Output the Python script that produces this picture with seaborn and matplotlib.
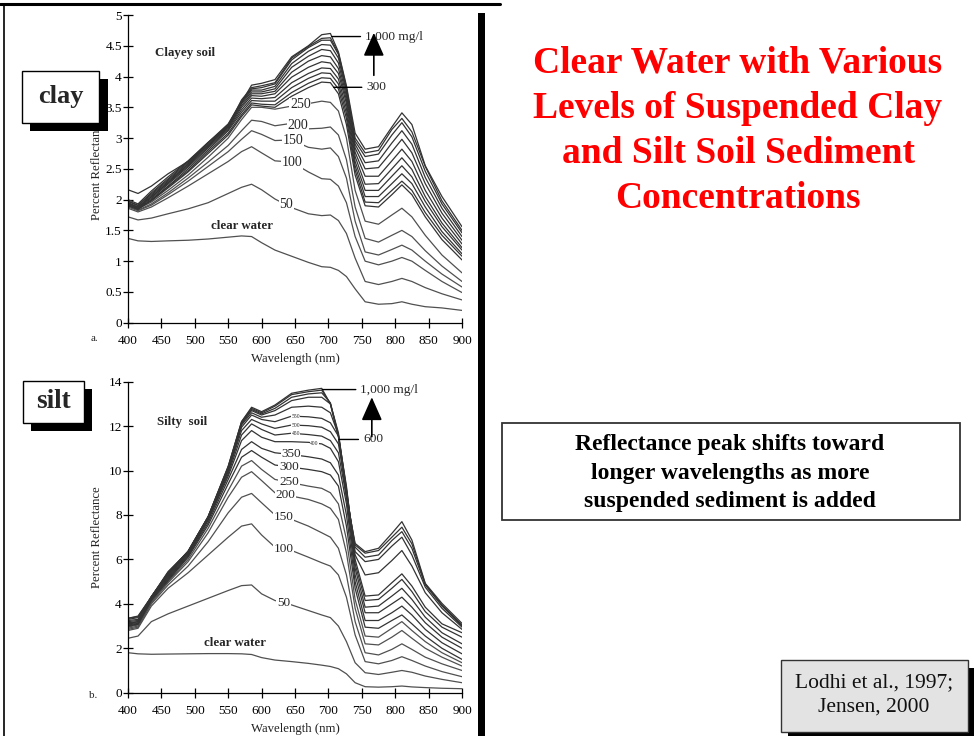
import numpy as np
import pandas as pd
import matplotlib
matplotlib.use("Agg")
import matplotlib.pyplot as plt
from matplotlib.patches import Rectangle
from matplotlib.lines import Line2D
from matplotlib.ticker import FuncFormatter
import seaborn as sns

# ---------------- data ----------------
wavelength = [400, 415, 435, 460, 490, 520, 550, 570, 585, 600, 620, 645, 670,
              690, 703, 715, 727, 740, 755, 775, 795, 810, 825, 845, 870, 900]

# Clayey soil (panel a) - percent reflectance
clay_clear = [1.37, 1.33, 1.32, 1.33, 1.34, 1.36, 1.39, 1.41, 1.40, 1.30, 1.18, 1.08, 0.98, 0.91, 0.90, 0.85, 0.75, 0.55, 0.34, 0.30, 0.31, 0.34, 0.30, 0.26, 0.24, 0.20]
clay_50    = [1.72, 1.67, 1.70, 1.77, 1.85, 1.95, 2.10, 2.20, 2.25, 2.16, 2.01, 1.87, 1.77, 1.74, 1.75, 1.66, 1.45, 1.05, 0.67, 0.62, 0.67, 0.72, 0.67, 0.57, 0.47, 0.37]
clay_100   = [1.86, 1.80, 1.88, 2.03, 2.22, 2.42, 2.62, 2.78, 2.86, 2.76, 2.63, 2.61, 2.45, 2.34, 2.33, 2.22, 1.95, 1.40, 1.00, 0.94, 1.00, 1.06, 1.00, 0.85, 0.67, 0.49]
clay_150   = [1.88, 1.82, 1.91, 2.08, 2.30, 2.54, 2.78, 2.98, 3.12, 3.06, 2.96, 2.97, 2.85, 2.82, 2.84, 2.70, 2.35, 1.65, 1.15, 1.10, 1.19, 1.26, 1.18, 1.00, 0.79, 0.58]
clay_200   = [1.90, 1.83, 1.93, 2.11, 2.35, 2.61, 2.88, 3.12, 3.29, 3.27, 3.20, 3.24, 3.15, 3.16, 3.18, 3.05, 2.65, 1.88, 1.37, 1.31, 1.42, 1.50, 1.40, 1.17, 0.92, 0.67]
clay_250   = [1.92, 1.85, 1.96, 2.15, 2.40, 2.69, 3.00, 3.30, 3.50, 3.50, 3.47, 3.52, 3.56, 3.60, 3.58, 3.44, 3.00, 2.15, 1.65, 1.60, 1.75, 1.86, 1.72, 1.42, 1.10, 0.81]
clay_300   = [1.95, 1.86, 1.98, 2.19, 2.45, 2.75, 3.05, 3.35, 3.54, 3.52, 3.50, 3.68, 3.82, 3.91, 3.90, 3.72, 3.22, 2.40, 1.90, 1.88, 2.08, 2.24, 2.08, 1.72, 1.35, 1.02]
clay_350   = [1.93, 1.85, 1.99, 2.21, 2.47, 2.78, 3.08, 3.38, 3.57, 3.55, 3.54, 3.74, 3.89, 3.98, 3.97, 3.80, 3.32, 2.48, 1.96, 1.95, 2.15, 2.30, 2.15, 1.79, 1.42, 1.08]
clay_400   = [1.90, 1.84, 2.00, 2.22, 2.50, 2.81, 3.12, 3.42, 3.61, 3.60, 3.60, 3.82, 3.97, 4.06, 4.05, 3.88, 3.40, 2.55, 2.05, 2.05, 2.26, 2.42, 2.26, 1.88, 1.48, 1.12]
clay_450   = [1.92, 1.86, 2.02, 2.25, 2.53, 2.84, 3.14, 3.46, 3.65, 3.64, 3.66, 3.90, 4.05, 4.14, 4.13, 3.96, 3.48, 2.62, 2.15, 2.15, 2.38, 2.55, 2.37, 1.97, 1.56, 1.18]
clay_500   = [1.94, 1.88, 2.04, 2.27, 2.55, 2.86, 3.16, 3.50, 3.69, 3.68, 3.72, 3.99, 4.15, 4.24, 4.22, 4.05, 3.56, 2.70, 2.25, 2.26, 2.50, 2.68, 2.49, 2.05, 1.62, 1.22]
clay_550   = [1.92, 1.86, 2.05, 2.28, 2.57, 2.88, 3.18, 3.53, 3.72, 3.72, 3.76, 4.07, 4.25, 4.34, 4.32, 4.13, 3.62, 2.77, 2.38, 2.38, 2.63, 2.82, 2.62, 2.15, 1.70, 1.28]
clay_600   = [1.95, 1.88, 2.07, 2.30, 2.58, 2.90, 3.20, 3.56, 3.75, 3.75, 3.80, 4.15, 4.33, 4.44, 4.42, 4.22, 3.68, 2.84, 2.50, 2.52, 2.78, 2.98, 2.76, 2.26, 1.78, 1.34]
clay_700   = [1.97, 1.90, 2.09, 2.32, 2.60, 2.92, 3.22, 3.58, 3.78, 3.78, 3.84, 4.21, 4.41, 4.52, 4.51, 4.30, 3.74, 2.90, 2.60, 2.63, 2.92, 3.12, 2.90, 2.36, 1.86, 1.40]
clay_800   = [1.98, 1.91, 2.11, 2.34, 2.62, 2.93, 3.23, 3.60, 3.80, 3.82, 3.88, 4.27, 4.47, 4.59, 4.59, 4.36, 3.79, 2.95, 2.70, 2.74, 3.05, 3.25, 3.02, 2.46, 1.93, 1.46]
clay_900   = [2.00, 1.93, 2.14, 2.37, 2.63, 2.93, 3.20, 3.62, 3.82, 3.85, 3.90, 4.30, 4.49, 4.62, 4.63, 4.38, 3.82, 3.00, 2.76, 2.80, 3.14, 3.32, 3.10, 2.54, 1.98, 1.50]
clay_1000  = [2.16, 2.10, 2.22, 2.42, 2.62, 2.88, 3.19, 3.58, 3.86, 3.89, 3.95, 4.32, 4.50, 4.68, 4.70, 4.40, 3.85, 3.08, 2.82, 2.86, 3.18, 3.41, 3.22, 2.55, 2.05, 1.56]

# Silty soil (panel b) - percent reflectance
silt_clear = [1.80, 1.75, 1.73, 1.74, 1.75, 1.76, 1.76, 1.75, 1.72, 1.58, 1.47, 1.40, 1.32, 1.24, 1.18, 1.08, 0.85, 0.45, 0.27, 0.25, 0.27, 0.30, 0.26, 0.23, 0.20, 0.18]
silt_50    = [2.45, 2.55, 3.20, 3.55, 3.90, 4.25, 4.60, 4.82, 4.85, 4.45, 4.15, 3.95, 3.70, 3.50, 3.38, 3.00, 2.30, 1.35, 0.90, 0.82, 0.92, 1.00, 0.92, 0.75, 0.60, 0.45]
silt_100   = [2.80, 2.90, 3.90, 4.70, 5.40, 6.20, 7.00, 7.50, 7.60, 7.10, 6.55, 6.40, 6.10, 5.85, 5.70, 5.30, 4.30, 2.60, 1.40, 1.30, 1.45, 1.62, 1.45, 1.20, 0.95, 0.72]
silt_150   = [2.85, 2.95, 4.00, 4.85, 5.70, 6.80, 8.10, 8.80, 8.97, 8.55, 8.00, 7.80, 7.50, 7.20, 7.00, 6.50, 5.30, 3.20, 1.80, 1.70, 1.95, 2.20, 1.95, 1.60, 1.30, 1.00]
silt_200   = [2.90, 3.00, 4.05, 4.95, 5.90, 7.20, 8.80, 9.70, 9.95, 9.55, 9.00, 8.85, 8.70, 8.50, 8.30, 7.80, 6.30, 3.80, 2.20, 2.15, 2.50, 2.80, 2.45, 2.00, 1.60, 1.20]
silt_250   = [2.95, 3.05, 4.10, 5.00, 6.00, 7.40, 9.10, 10.20, 10.45, 10.05, 9.60, 9.45, 9.30, 9.20, 9.00, 8.50, 6.90, 4.20, 2.55, 2.50, 2.90, 3.20, 2.80, 2.30, 1.80, 1.35]
silt_300   = [3.00, 3.08, 4.15, 5.05, 6.10, 7.55, 9.40, 10.60, 10.90, 10.60, 10.25, 10.15, 10.05, 9.95, 9.80, 9.30, 7.50, 4.70, 2.95, 2.90, 3.25, 3.50, 3.10, 2.55, 2.00, 1.50]
silt_350   = [3.00, 3.10, 4.20, 5.10, 6.15, 7.65, 9.60, 10.95, 11.30, 11.00, 10.80, 10.72, 10.62, 10.52, 10.35, 9.80, 8.00, 5.00, 3.25, 3.25, 3.60, 3.90, 3.50, 2.85, 2.25, 1.75]
silt_400   = [3.05, 3.12, 4.22, 5.15, 6.20, 7.75, 9.75, 11.35, 11.80, 11.50, 11.30, 11.30, 11.27, 11.20, 11.00, 10.40, 8.50, 5.30, 3.60, 3.60, 4.00, 4.30, 3.85, 3.15, 2.50, 2.00]
silt_450   = [3.10, 3.15, 4.25, 5.20, 6.25, 7.80, 9.85, 11.60, 12.10, 11.85, 11.60, 11.68, 11.62, 11.55, 11.35, 10.80, 8.80, 5.60, 3.85, 3.90, 4.35, 4.70, 4.20, 3.40, 2.70, 2.20]
silt_500   = [3.10, 3.20, 4.28, 5.25, 6.30, 7.85, 9.95, 11.80, 12.30, 12.10, 11.90, 12.05, 12.02, 11.95, 11.75, 11.20, 9.10, 5.80, 4.15, 4.20, 4.70, 5.10, 4.55, 3.65, 2.95, 2.50]
silt_550   = [3.15, 3.20, 4.30, 5.30, 6.32, 7.88, 10.00, 11.95, 12.50, 12.30, 12.20, 12.45, 12.42, 12.35, 12.15, 11.55, 9.30, 6.00, 4.35, 4.40, 4.95, 5.35, 4.80, 3.85, 3.10, 2.70]
silt_600   = [3.20, 3.25, 4.32, 5.35, 6.35, 7.90, 10.05, 12.05, 12.60, 12.40, 12.50, 12.85, 12.90, 12.85, 12.60, 11.60, 9.20, 6.20, 5.30, 5.40, 5.95, 6.40, 5.70, 4.50, 3.60, 2.85]
silt_700   = [3.25, 3.30, 4.33, 5.38, 6.38, 7.92, 10.10, 12.10, 12.70, 12.50, 12.70, 13.15, 13.30, 13.30, 13.00, 11.70, 9.10, 6.35, 5.90, 6.00, 6.60, 7.00, 6.20, 4.75, 3.80, 2.95]
silt_800   = [3.30, 3.38, 4.32, 5.40, 6.36, 7.92, 10.15, 12.15, 12.75, 12.55, 12.80, 13.30, 13.45, 13.50, 13.05, 11.60, 9.00, 6.55, 6.10, 6.20, 6.85, 7.25, 6.50, 4.85, 3.90, 3.00]
silt_900   = [3.35, 3.42, 4.30, 5.42, 6.35, 7.93, 10.20, 12.20, 12.80, 12.60, 12.90, 13.42, 13.55, 13.62, 13.00, 11.55, 8.90, 6.65, 6.28, 6.40, 7.00, 7.45, 6.70, 4.90, 3.95, 3.05]
silt_1000  = [3.35, 3.45, 4.32, 5.45, 6.35, 7.92, 10.17, 12.20, 12.85, 12.65, 12.95, 13.48, 13.62, 13.70, 13.00, 11.52, 8.82, 6.72, 6.35, 6.50, 7.17, 7.70, 6.87, 4.92, 4.02, 3.12]

concentrations = ["clear water", "50", "100", "150", "200", "250", "300", "350", "400",
                  "450", "500", "550", "600", "700", "800", "900", "1000"]
clay_values = [clay_clear, clay_50, clay_100, clay_150, clay_200, clay_250, clay_300, clay_350, clay_400,
               clay_450, clay_500, clay_550, clay_600, clay_700, clay_800, clay_900, clay_1000]
silt_values = [silt_clear, silt_50, silt_100, silt_150, silt_200, silt_250, silt_300, silt_350, silt_400,
               silt_450, silt_500, silt_550, silt_600, silt_700, silt_800, silt_900, silt_1000]

clay_ticks_y = [0, 0.5, 1, 1.5, 2, 2.5, 3, 3.5, 4, 4.5, 5]
silt_ticks_y = [0, 2, 4, 6, 8, 10, 12, 14]
ticks_x = [400, 450, 500, 550, 600, 650, 700, 750, 800, 850, 900]

title_text = "Clear Water with Various\nLevels of Suspended Clay\nand Silt Soil Sediment\nConcentrations"
note_text = "Reflectance peak shifts toward\nlonger wavelengths as more\nsuspended sediment is added"
cite_text = "Lodhi et al., 1997;\nJensen, 2000"

# ---------------- style ----------------
sns.set_style("ticks")
plt.rcParams["font.family"] = ["Liberation Serif", "DejaVu Serif"]
plt.rcParams["axes.linewidth"] = 0.9

W, H = 974, 736
fig = plt.figure(figsize=(W / 100, H / 100), dpi=100)
fig.patch.set_facecolor("white")


def fx(x):
    return x / W


def fy(y):
    return 1 - y / H


def long_df(values):
    rows = []
    for name, vals in zip(concentrations, values):
        for w, v in zip(wavelength, vals):
            rows.append({"wl": w, "refl": v, "conc": name})
    return pd.DataFrame(rows)


palette = {}
for c in concentrations:
    if c in ("clear water", "50", "100", "150", "200", "250"):
        palette[c] = "#505050"
    else:
        palette[c] = "#333333"

ax1 = fig.add_axes([fx(128), fy(322.7), (462 - 128) / W, (322.7 - 15) / H])
ax2 = fig.add_axes([fx(128), fy(692.7), (462 - 128) / W, (692.7 - 381.7) / H])

for ax, values, yt, ymax in [(ax1, clay_values, clay_ticks_y, 5), (ax2, silt_values, silt_ticks_y, 14)]:
    sns.lineplot(data=long_df(values), x="wl", y="refl", hue="conc", hue_order=concentrations,
                 palette=palette, estimator=None, legend=False, linewidth=0.9, ax=ax)
    ax.set_xlim(400, 900)
    ax.set_ylim(0, ymax)
    ax.set_xticks(ticks_x)
    ax.set_yticks(yt)
    ax.yaxis.set_major_formatter(FuncFormatter(lambda v, p: "{:g}".format(v)))
    ax.tick_params(direction="inout", length=7, width=0.9, labelsize=9.5, colors="black")
    ax.tick_params(axis="x", pad=5)
    ax.tick_params(axis="y", pad=1)
    for s in ("top", "right"):
        ax.spines[s].set_visible(False)
    for s in ("left", "bottom"):
        ax.spines[s].set_color("black")
    ax.set_xlabel("Wavelength (nm)", fontsize=9.2, color="#222222")
    ax.set_ylabel("Percent Reflectance", fontsize=9.2, color="#222222")
    ax.set_facecolor("white")

ax1.xaxis.set_label_coords(0.5, -0.099)
ax1.yaxis.set_label_coords(-0.074, 0.5)
ax2.xaxis.set_label_coords(0.5, -0.097)
ax2.yaxis.set_label_coords(-0.074, 0.5)

ax1.text(-0.10, -0.05, "a.", transform=ax1.transAxes, fontsize=8, ha="center", va="center")
ax2.text(-0.105, -0.01, "b.", transform=ax2.transAxes, fontsize=8, ha="center", va="center")


def curve(values, name):
    return values[concentrations.index(name)]


def on_curve_label(ax, values, name, w, size=10):
    y = np.interp(w, wavelength, curve(values, name))
    ax.text(w, y, name, fontsize=size, ha="center", va="center", zorder=5,
            bbox=dict(boxstyle="square,pad=0.05", fc="white", ec="none"))


def leader(ax, text, values, name, w_curve, w_text):
    y = np.interp(w_curve, wavelength, curve(values, name))
    ax.annotate(text, xy=(w_curve, y), xytext=(w_text, y), fontsize=9.6, ha="left", va="center",
                arrowprops=dict(arrowstyle="-", color="black", lw=1.0, shrinkA=1, shrinkB=0,
                                relpos=(0, 0.5)))


# clay annotations
ax1.text(441, 4.38, "Clayey soil", fontsize=9.3, fontweight="bold", ha="left", va="center")
ax1.text(570, 1.57, "clear water", fontsize=9.3, fontweight="bold", ha="center", va="center")
for name, w in [("250", 658), ("200", 654), ("150", 647), ("100", 646), ("50", 637)]:
    on_curve_label(ax1, clay_values, name, w, size=10)
leader(ax1, "1,000 mg/l", clay_values, "1000", 705, 755)
leader(ax1, "300", clay_values, "300", 708, 757)
ax1.annotate("", xy=(768, 4.71), xytext=(768, 4.02),
             arrowprops=dict(arrowstyle="-|>,head_length=0.9,head_width=0.4", color="black", lw=1.2,
                             shrinkA=0, shrinkB=0, mutation_scale=16))

# silt annotations
ax2.text(444, 12.19, "Silty  soil", fontsize=9.3, fontweight="bold", ha="left", va="center")
ax2.text(560, 2.24, "clear water", fontsize=9.3, fontweight="bold", ha="center", va="center")
for name, w in [("350", 644), ("300", 641), ("250", 641), ("200", 636), ("150", 633), ("100", 633), ("50", 633)]:
    on_curve_label(ax2, silt_values, name, w, size=9.5)
for name, w in [("550", 651), ("500", 651), ("450", 651), ("400", 679)]:
    on_curve_label(ax2, silt_values, name, w, size=4)
leader(ax2, "1,000 mg/l", silt_values, "1000", 691, 748)
leader(ax2, "600", silt_values, "600", 716, 752)
ax2.annotate("", xy=(765, 13.3), xytext=(765, 11.53),
             arrowprops=dict(arrowstyle="-|>,head_length=0.9,head_width=0.4", color="black", lw=1.2,
                             shrinkA=0, shrinkB=0, mutation_scale=16))


# ---------------- slide decorations ----------------
def frect(x0, y0, x1, y1, **kw):
    r = Rectangle((fx(x0), fy(y1)), (x1 - x0) / W, (y1 - y0) / H, transform=fig.transFigure, **kw)
    fig.add_artist(r)
    return r


# frame lines
fig.add_artist(Line2D([fx(0), fx(500)], [fy(4), fy(4)], transform=fig.transFigure, color="black", lw=2.2))
fig.add_artist(Line2D([fx(4), fx(4)], [fy(4), fy(736)], transform=fig.transFigure, color="black", lw=1.2))
frect(478, 13, 485, 736, facecolor="black", edgecolor="none", zorder=4)

# clay / silt boxes with shadow
frect(30, 79, 108, 131, facecolor="black", edgecolor="none", zorder=5)
frect(22, 71, 99, 123, facecolor="white", edgecolor="black", lw=1.0, zorder=6)
fig.text(fx(60.5), fy(96), "clay", fontsize=19, fontweight="bold", ha="center", va="center", zorder=7)

frect(31, 389, 92, 431, facecolor="black", edgecolor="none", zorder=5)
frect(23, 381, 84, 423, facecolor="white", edgecolor="black", lw=1.0, zorder=6)
fig.text(fx(53.5), fy(401), "silt", fontsize=19.5, fontweight="bold", ha="center", va="center", zorder=7)

# title
fig.text(fx(738), fy(131), title_text, fontsize=27, fontweight="bold", color="#ff0000",
         ha="center", va="center", linespacing=1.38)

# note box
frect(502, 423, 960, 520, facecolor="white", edgecolor="#333333", lw=1.3, zorder=3)
fig.text(fx(730), fy(473), note_text, fontsize=17, fontweight="bold", color="black",
         ha="center", va="center", linespacing=1.45, zorder=5)

# citation box with shadow
frect(788, 668, 975, 742, facecolor="black", edgecolor="none", zorder=3, clip_on=False)
frect(781, 660, 968, 732, facecolor="#e3e3e3", edgecolor="#333333", lw=1.0, zorder=4)
fig.text(fx(874), fy(695), cite_text, fontsize=15.5, color="#111111",
         ha="center", va="center", linespacing=1.38, zorder=5)

fig.savefig("out.png", dpi=100, facecolor="white")
